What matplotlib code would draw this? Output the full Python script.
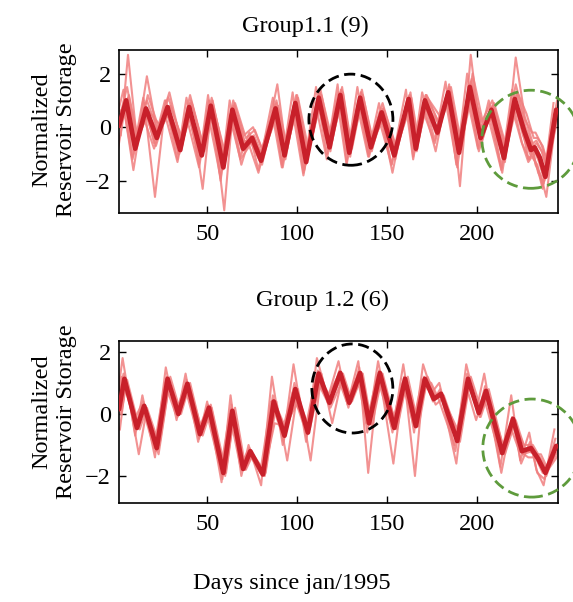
import matplotlib
matplotlib.use("Agg")
import matplotlib.pyplot as plt
from matplotlib.patches import Ellipse

plt.rcParams['font.family'] = ['Liberation Serif', 'DejaVu Serif']
plt.rcParams['font.size'] = 17.5

# ---------------- data: Group 1.1 (9 reservoirs) ----------------
months_top = [1, 5, 10, 16, 22, 28, 35, 40, 47, 52, 59, 64, 70, 75, 80, 88, 93, 99, 105, 112,
              118, 124, 129, 135, 141, 147, 154, 162, 166, 171, 178, 184, 190, 196, 202, 208,
              215, 221, 226, 230, 232, 235, 238, 244]
mean_top = [0.05, 1.0, -0.8, 0.7, -0.4, 0.75, -0.85, 0.75, -1.05, 0.8, -1.5, 0.65, -0.8, -0.4,
            -1.25, 0.7, -1.05, 0.9, -1.3, 1.1, -0.75, 1.2, -0.95, 1.1, -0.75, 0.55, -1.05, 1.05,
            -0.8, 1.0, -0.2, 1.3, -0.95, 1.5, -0.4, 0.65, -1.15, 1.05, -0.1, -0.85, -0.75, -1.15,
            -1.85, 0.65]
top_s1 = [0.3, 1.4, -1.1, 1.1, -0.6, 1.0, -1.2, 1.1, -1.4, 1.2, -2.0, 1.0, -1.1, -0.2, -1.6,
          1.1, -1.4, 1.3, -1.7, 1.5, -1.0, 1.6, -1.3, 1.5, -1.0, 0.9, -1.4, 1.4, -1.1, 1.3,
          -0.5, 1.7, -1.4, 2.0, -0.7, 1.0, -1.5, 1.4, 0.2, -1.2, -1.0, -1.5, -2.3, 0.9]
top_s2 = [-0.3, 2.7, -0.5, 0.5, -0.2, 0.6, -0.6, 0.5, -0.8, 0.6, -1.2, 0.4, -0.6, -0.6, -1.0,
          0.5, -0.8, 0.7, -1.0, 0.9, -0.5, 1.0, -0.7, 0.9, -0.5, 0.3, -0.8, 0.8, -0.6, 0.8,
          0.1, 1.1, -0.7, 1.2, -0.1, 0.4, -0.9, 0.8, -0.4, -0.6, -0.5, -0.9, -1.5, 0.4]
top_s3 = [0.6, 0.8, -0.7, 1.9, -0.3, 0.5, -0.9, 0.9, -2.3, 0.9, -3.1, 0.8, -0.5, -0.6, -1.4,
          0.9, -1.2, 1.0, -1.1, 1.3, -0.9, 1.4, -1.1, 1.3, -0.9, 0.7, -1.2, 1.2, -0.9, 1.2,
          -0.3, 1.6, -2.2, 2.7, -0.6, 0.8, -1.3, 2.6, 0.4, -0.5, -1.4, -1.8, -2.6, 0.7]
top_s4 = [-1.0, 0.6, -1.6, 0.9, -2.6, 1.0, -1.0, 0.6, -1.2, 1.0, -1.6, 0.5, -1.4, -0.3, -1.2,
          0.6, -1.5, 0.8, -1.6, 1.0, -0.6, 1.3, -1.0, 1.0, -1.1, 0.6, -1.7, 1.0, -0.8, 0.9,
          -0.9, 1.2, -1.5, 1.3, -0.9, 0.5, -1.7, 0.9, -0.6, -1.2, -0.9, -1.7, -2.1, 0.5]
top_s5 = [0.2, 1.2, -0.4, 0.6, 0.1, 0.8, -0.5, 0.9, -0.9, 0.7, -1.1, 0.9, -0.4, -0.1, -1.0,
          0.8, -0.8, 1.1, -0.9, 1.2, -0.5, 1.3, -0.8, 1.2, -0.6, 0.6, -0.8, 1.1, -0.5, 1.1,
          0.4, 1.5, -0.7, 2.0, 0.1, 0.9, -0.8, 1.3, 0.5, -0.4, -0.4, -0.7, -1.4, 0.9]
top_s6 = [0.0, 0.9, -0.9, 0.6, -0.7, 0.6, -1.0, 0.6, -1.1, 0.7, -1.6, 0.6, -0.9, -0.6, -1.3,
          0.6, -1.1, 0.8, -1.4, 1.0, -0.8, 1.1, -1.0, 1.0, -0.8, 0.5, -1.1, 1.0, -0.9, 0.9,
          -0.3, 1.2, -1.0, 1.4, -0.5, 0.6, -1.2, 1.0, -0.3, -1.0, -0.8, -1.3, -2.0, 0.6]
top_s7 = [0.5, 1.1, -0.6, 1.2, 0.0, 1.3, -0.7, 1.0, -0.8, 1.0, -1.3, 0.8, -0.6, -0.3, -1.1,
          1.6, -0.9, 1.2, -1.1, 1.4, -0.6, 1.5, -0.8, 1.4, -0.6, 0.7, -0.9, 1.3, -0.6, 1.2,
          0.1, 1.4, -0.8, 1.8, -0.2, 0.8, -1.0, 1.3, 0.0, -0.7, -0.6, -0.9, -1.6, 0.8]
top_s8 = [-0.4, 0.8, -1.2, 0.4, -0.8, 0.5, -1.3, 0.4, -1.5, 0.5, -1.9, 0.4, -1.2, -0.7, -1.7,
          0.4, -1.5, 0.6, -1.8, 0.8, -1.2, 0.9, -1.4, 0.8, -1.1, 0.3, -1.4, 0.8, -1.2, 0.7,
          -0.6, 1.0, -1.3, 1.1, -0.8, 0.3, -1.6, 0.7, -0.5, -1.3, -1.1, -1.4, -2.2, 0.3]
top_s9 = [0.4, 1.5, -0.3, 1.0, -0.1, 1.1, -0.4, 1.2, -0.6, 1.1, -1.0, 1.0, -0.3, 0.0, -0.8,
          1.0, -0.6, 1.2, -0.9, 1.3, -0.4, 1.4, -0.6, 1.3, -0.4, 0.9, -0.7, 1.2, -0.5, 1.2,
          0.2, 1.5, -0.5, 1.7, 0.2, 1.0, -0.7, 1.6, 0.3, -0.2, -0.2, -0.6, -1.2, 1.0]
series_top = [top_s1, top_s2, top_s3, top_s4, top_s5, top_s6, top_s7, top_s8, top_s9]
# phase lead/lag (months) of each reservoir relative to the group mean
lag_top = [-1.5, 1.0, 0.5, -1.0, 1.5, -0.5, 1.0, -1.5, 0.5]

# ---------------- data: Group 1.2 (6 reservoirs) ----------------
months_bot = [1, 4, 11, 15, 22, 28, 34, 39, 46, 51, 59, 64, 70, 74, 81, 87, 93, 99, 106, 112,
              118, 124, 129, 135, 140, 146, 154, 160, 166, 171, 176, 180, 189, 195, 201, 205,
              214, 220, 225, 230, 234, 238, 244]
mean_bot = [0.15, 1.13, -0.45, 0.26, -1.1, 1.13, 0.0, 0.97, -0.65, 0.2, -1.9, 0.1, -1.77, -1.2,
            -1.95, 0.4, -0.7, 0.8, -0.6, 1.3, 0.36, 1.32, 0.36, 1.32, -0.3, 1.32, -0.45, 1.13,
            -0.39, 1.13, 0.48, 0.65, -0.87, 1.13, 0.03, 0.74, -1.26, -0.16, -1.2, -1.1, -1.45,
            -1.9, -1.03]
bot_s1 = [0.5, 1.8, -0.7, 0.6, -1.4, 1.5, -0.2, 1.3, -0.9, 0.4, -2.2, 0.6, -2.0, -1.0, -2.3,
          1.2, -1.0, 1.6, -0.9, 1.8, 0.5, 1.7, 0.3, 1.7, -0.6, 1.7, -0.6, 1.6, -0.6, 1.6,
          0.7, 1.0, -1.2, 1.6, 0.2, 1.3, -1.7, 0.6, -1.5, -0.6, -1.8, -2.3, -0.5]
bot_s2 = [0.0, 1.0, -1.3, 0.0, -1.3, 1.0, 0.1, 0.9, -0.5, 0.3, -2.0, 0.0, -1.8, -1.3, -2.0,
          0.3, -0.5, 0.6, -0.5, 1.1, 0.5, 1.2, 0.5, 1.2, -0.2, 1.1, -0.3, 1.0, -0.2, 1.0,
          0.3, 0.5, -0.6, 1.0, -0.1, 0.6, -1.1, -0.3, -1.0, -1.0, -1.4, -1.8, -1.2]
bot_s3 = [-0.5, 0.9, -0.3, 0.2, -0.9, 1.0, 0.1, 0.8, -0.6, 0.0, -1.7, -0.2, -1.6, -1.3, -1.9,
          -0.3, -0.4, 0.3, -0.4, 0.9, 0.2, 1.0, 0.4, 1.1, -0.1, 1.1, -0.3, 1.0, -0.3, 1.0,
          0.6, 0.6, -0.8, 0.9, -0.1, 0.7, -1.1, -0.3, -1.3, -1.2, -1.5, -2.0, -1.0]
bot_s4 = [0.3, 1.3, -0.4, 0.4, -1.2, 1.2, -0.1, 1.1, -0.8, 0.3, -2.1, 0.3, -1.8, -1.1, -2.0,
          0.6, -0.9, 1.0, -0.7, 1.4, 0.3, 1.4, 0.2, 1.5, -1.9, 1.4, -1.6, 1.2, -2.0, 1.2,
          0.4, 0.8, -1.6, 1.3, 0.0, 0.9, -1.9, -0.1, -1.6, -0.9, -1.9, -2.1, -0.8]
bot_s5 = [0.1, 1.1, -0.5, 0.2, -1.0, 1.2, 0.0, 1.0, -0.7, 0.2, -1.9, 0.2, -1.8, -1.3, -1.9,
          0.4, -1.5, 0.8, -1.5, 1.3, -0.3, 1.3, 0.4, 1.3, -0.4, 1.3, -0.5, 1.2, -0.4, 1.2,
          0.5, 0.6, -0.9, 1.2, 0.1, 0.8, -1.3, -0.2, -1.1, -1.3, -1.3, -1.8, -1.3]
bot_s6 = [0.2, 1.2, -0.2, 0.3, -1.1, 1.0, 0.0, 0.9, -0.6, 0.1, -1.8, 0.0, -1.7, -1.2, -1.9,
          0.4, -0.6, 0.7, -0.5, 1.2, 0.5, 1.2, 0.4, 1.2, -0.3, 1.2, -0.4, 1.0, -0.3, 1.1,
          1.0, 0.5, -1.0, 1.0, -0.2, 0.6, -1.3, -0.4, -1.2, -1.4, -1.4, -1.9, -1.4]
series_bot = [bot_s1, bot_s2, bot_s3, bot_s4, bot_s5, bot_s6]
lag_bot = [-1.0, 1.0, 0.5, -0.5, 1.5, -1.5]

xticks = [50, 100, 150, 200]
yticks = [-2, 0, 2]
titles = ["Group1.1 (9)", "Group 1.2 (6)"]
ylabel = "Normalized\nReservoir Storage"
xlabel = "Days since jan/1995"

LIGHT = '#f07f7f'
DARK = '#c8202a'
GREEN = '#5e9b3c'

fig = plt.figure(figsize=(5.73, 6.02), dpi=100)
ax1 = fig.add_axes([119/573, 1-213/602, 439/573, 163/602])
ax2 = fig.add_axes([119/573, 1-503/602, 439/573, 162/602])

def draw(ax, months, members, lags, mean, ylim, circles):
    for s, lag in zip(members, lags):
        ax.plot([m + lag for m in months], s, color=LIGHT, lw=1.5, alpha=0.85, zorder=2,
                solid_joinstyle='round')
    ax.plot(months, mean, color=DARK, lw=3.4, zorder=3, solid_joinstyle='round',
            solid_capstyle='round')
    ax.set_xlim(1, 245)
    ax.set_ylim(*ylim)
    ax.set_xticks(xticks)
    ax.set_yticks(yticks)
    ax.tick_params(direction='in', top=True, right=True, length=5, width=1, labelsize=17.5)
    ax.tick_params(axis='x', pad=8)
    ax.tick_params(axis='y', pad=6)
    for sp in ax.spines.values():
        sp.set_linewidth(1.2)
    for (cx, cy, w, h, col) in circles:
        e = Ellipse((cx, cy), w, h, fill=False, ls=(0, (4, 2)), lw=2.0,
                    edgecolor=col, clip_on=False, zorder=4)
        ax.add_patch(e)

draw(ax1, months_top, series_top, lag_top, mean_top, (-3.2, 2.88),
     [(129.9, 0.28, 46.7, 3.4, 'black'), (229.9, -0.45, 54.4, 3.66, GREEN)])
draw(ax2, months_bot, series_bot, lag_bot, mean_bot, (-2.87, 2.35),
     [(130.7, 0.82, 45.0, 2.87, 'black'), (230.4, -1.1, 54.4, 3.16, GREEN)])

fig.text(305/573, 1-26/602, titles[0], ha='center', va='center', fontsize=17.5)
fig.text(322/573, 1-300/602, titles[1], ha='center', va='center', fontsize=17.5)
fig.text(54/573, 1-130/602, ylabel, ha='center', va='center', rotation=90, fontsize=17.5,
         multialignment='center')
fig.text(54/573, 1-412/602, ylabel, ha='center', va='center', rotation=90, fontsize=17.5,
         multialignment='center')
fig.text(292/573, 1-583/602, xlabel, ha='center', va='center', fontsize=17.5)

fig.savefig('out.png', dpi=100)
